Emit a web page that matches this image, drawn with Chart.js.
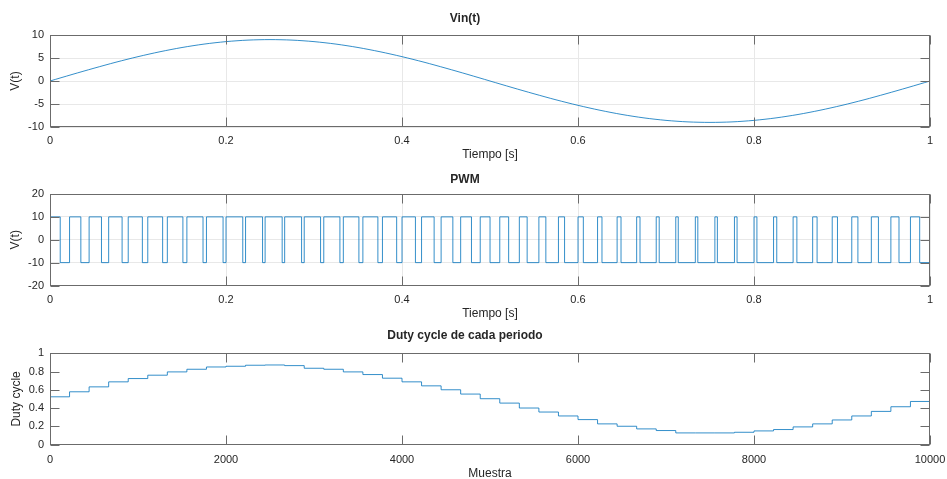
<!DOCTYPE html>
<html>
<head>
<meta charset="utf-8">
<script src="https://cdn.jsdelivr.net/npm/chart.js@4.4.1/dist/chart.umd.min.js"></script>
<style>
  html, body { margin: 0; padding: 0; background: #fff; }
  #wrap { position: relative; width: 947px; height: 479px; }
  canvas { position: absolute; left: 0; }
</style>
</head>
<body>
<div id="wrap">
  <canvas id="c-vin"  width="947" height="165" style="top:0"></canvas>
  <canvas id="c-pwm"  width="947" height="157" style="top:165px"></canvas>
  <canvas id="c-duty" width="947" height="157" style="top:322px"></canvas>
</div>
<script>
/* ===== datos ===== */
// Vin(t): tiempo [s] y tensión [V]
const VIN_T = [0, 0.025, 0.05, 0.075, 0.1, 0.125, 0.15, 0.175, 0.2, 0.225, 0.25,
               0.275, 0.3, 0.325, 0.35, 0.375, 0.4, 0.425, 0.45, 0.475, 0.5,
               0.525, 0.55, 0.575, 0.6, 0.625, 0.65, 0.675, 0.7, 0.725, 0.75,
               0.775, 0.8, 0.825, 0.85, 0.875, 0.9, 0.925, 0.95, 0.975, 1];
const VIN_V = [0, 1.41, 2.78, 4.09, 5.29, 6.36, 7.28, 8.02, 8.56, 8.89, 9.0,
               8.89, 8.56, 8.02, 7.28, 6.36, 5.29, 4.09, 2.78, 1.41, 0,
               -1.41, -2.78, -4.09, -5.29, -6.36, -7.28, -8.02, -8.56, -8.89, -9.0,
               -8.89, -8.56, -8.02, -7.28, -6.36, -5.29, -4.09, -2.78, -1.41, 0];

// duty cycle de cada uno de los 45 periodos
const DUTY = [0.523, 0.578, 0.632, 0.687, 0.723, 0.760, 0.796, 0.825, 0.850, 0.858,
              0.869, 0.872, 0.865, 0.836, 0.825, 0.796, 0.767, 0.727, 0.687, 0.643,
              0.600, 0.553, 0.502, 0.454, 0.400, 0.356, 0.313, 0.273, 0.226, 0.200,
              0.171, 0.153, 0.127, 0.127, 0.127, 0.134, 0.149, 0.164, 0.193, 0.226,
              0.269, 0.313, 0.363, 0.414, 0.472];
const PWM_HIGH = 10;
const PWM_LOW = -10;
const T_END = 1;          // s
const SAMPLES = 10000;    // muestras en T_END

// ticks
const T_TICKS = [0, 0.2, 0.4, 0.6, 0.8, 1];
const T_LABELS = ['0', '0.2', '0.4', '0.6', '0.8', '1'];
const VIN_TICKS = [-10, -5, 0, 5, 10];
const VIN_LABELS = ['-10', '-5', '0', '5', '10'];
const PWM_TICKS = [-20, -10, 0, 10, 20];
const PWM_LABELS = ['-20', '-10', '0', '10', '20'];
const N_TICKS = [0, 2000, 4000, 6000, 8000, 10000];
const N_LABELS = ['0', '2000', '4000', '6000', '8000', '10000'];
const D_TICKS = [0, 0.2, 0.4, 0.6, 0.8, 1];
const D_LABELS = ['0', '0.2', '0.4', '0.6', '0.8', '1'];

/* ===== estilo ===== */
const LINE = '#0072BD';
const TEXT = '#262626';
const AXIS = '#6b6b6b';
const GRID = '#e8e8e8';
Chart.defaults.font.family = "'Liberation Sans', Arial, Helvetica, sans-serif";
Chart.defaults.color = TEXT;

// ── puntos ──
const vinPts = VIN_T.map((t, i) => ({ x: t, y: VIN_V[i] }));

const periodS = T_END / DUTY.length;
const pwmPts = [];
DUTY.forEach((d, i) => {
    const t0 = i * periodS;
    pwmPts.push({ x: t0, y: PWM_HIGH }, { x: t0 + d * periodS, y: PWM_LOW });
});
pwmPts.push({ x: T_END, y: PWM_LOW });

const periodN = SAMPLES / DUTY.length;
const dutyPts = DUTY.map((d, i) => ({ x: i * periodN, y: d }));
dutyPts.push({ x: SAMPLES, y: DUTY[DUTY.length - 1] });

// ── caja y marcas hacia dentro (estilo MATLAB) ──
const boxTicks = {
    id: 'boxTicks',
    afterDraw(chart) {
        const { ctx, chartArea: a, scales: { x, y } } = chart;
        const L = Math.round(a.left) + 0.5, R = Math.round(a.right) - 0.5;
        const T = Math.round(a.top) + 0.5, B = Math.round(a.bottom) - 0.5;
        const len = 9;
        ctx.save();
        ctx.strokeStyle = AXIS;
        ctx.lineWidth = 1;
        ctx.strokeRect(L, T, R - L, B - T);
        ctx.beginPath();
        x.ticks.forEach(t => {
            const px = Math.round(x.getPixelForValue(t.value)) + 0.5;
            ctx.moveTo(px, B); ctx.lineTo(px, B - len);
            ctx.moveTo(px, T); ctx.lineTo(px, T + len);
        });
        y.ticks.forEach(t => {
            const py = Math.round(y.getPixelForValue(t.value)) + 0.5;
            ctx.moveTo(L, py); ctx.lineTo(L + len, py);
            ctx.moveTo(R, py); ctx.lineTo(R - len, py);
        });
        ctx.stroke();
        ctx.restore();
    }
};

function makeAxis(c) {
    return {
        type: 'linear',
        min: c.ticks[0],
        max: c.ticks[c.ticks.length - 1],
        afterBuildTicks: s => { s.ticks = c.ticks.map(v => ({ value: v })); },
        afterFit: s => {
            c.fit(s);
            // sin margen extra por etiquetas en los extremos
            s.paddingLeft = s.paddingRight = s.paddingTop = s.paddingBottom = 0;
        },
        grid: { display: c.grid, color: GRID, lineWidth: 1, drawTicks: false },
        border: { display: false },
        ticks: {
            color: TEXT, font: { size: 11 }, padding: c.pad,
            autoSkip: false, maxRotation: 0,
            callback: (v, i) => c.labels[i]
        },
        title: { display: true, text: c.title, color: TEXT, font: { size: 12 }, padding: c.titlePad }
    };
}

function makeChart(id, c) {
    return new Chart(document.getElementById(id), {
        type: 'line',
        data: {
            datasets: [{
                data: c.points,
                borderColor: LINE,
                borderWidth: 0.8,
                pointRadius: 0,
                fill: false,
                stepped: c.stepped || false,
                tension: c.tension || 0
            }]
        },
        options: {
            responsive: false,
            animation: false,
            events: [],
            layout: { padding: { left: 0, right: 17, top: 0, bottom: 0 } },
            plugins: {
                legend: { display: false },
                tooltip: { enabled: false },
                title: {
                    display: true, text: c.title, color: TEXT,
                    font: { size: 12, weight: 'bold' }, padding: c.titlePad
                }
            },
            scales: { x: c.x, y: c.y }
        },
        plugins: [boxTicks]
    });
}

// ── Vin(t) ──
makeChart('c-vin', {
    title: 'Vin(t)', titlePad: { top: 11, bottom: 9.6 },
    points: vinPts, tension: 0.3,
    x: makeAxis({ ticks: T_TICKS, labels: T_LABELS, grid: true, pad: 7, title: 'Tiempo [s]',
                  titlePad: { top: 0, bottom: 3.5 }, fit: s => { s.height = 38; } }),
    y: makeAxis({ ticks: VIN_TICKS, labels: VIN_LABELS, grid: true, pad: 6, title: 'V(t)',
                  titlePad: { top: 8, bottom: 0 }, fit: s => { s.width = 50; } })
});

// ── PWM ──
makeChart('c-pwm', {
    title: 'PWM', titlePad: { top: 7.8, bottom: 6.8 },
    points: pwmPts, stepped: true,
    x: makeAxis({ ticks: T_TICKS, labels: T_LABELS, grid: true, pad: 7.5, title: 'Tiempo [s]',
                  titlePad: { top: 0, bottom: 1.5 }, fit: s => { s.height = 36.5; } }),
    y: makeAxis({ ticks: PWM_TICKS, labels: PWM_LABELS, grid: true, pad: 6, title: 'V(t)',
                  titlePad: { top: 8, bottom: 0 }, fit: s => { s.width = 50; } })
});

// ── Duty cycle ──
makeChart('c-duty', {
    title: 'Duty cycle de cada periodo', titlePad: { top: 6.5, bottom: 10.4 },
    points: dutyPts, stepped: true,
    x: makeAxis({ ticks: N_TICKS, labels: N_LABELS, grid: false, pad: 8.5, title: 'Muestra',
                  titlePad: { top: 0, bottom: -1.5 }, fit: s => { s.height = 34.5; } }),
    y: makeAxis({ ticks: D_TICKS, labels: D_LABELS, grid: false, pad: 6, title: 'Duty cycle',
                  titlePad: { top: 9, bottom: 0 }, fit: s => { s.width = 50; } })
});
</script>
</body>
</html>
